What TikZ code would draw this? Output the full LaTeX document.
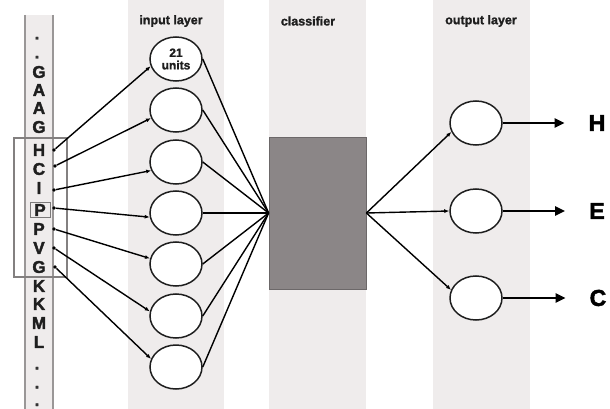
\documentclass[tikz,border=0pt]{standalone}
\usepackage{fontspec}
\setmainfont{Liberation Sans}
\newfontfamily\heavyfont{Liberation Sans}[FakeBold=1.3]
\newfontfamily\blackfont{Liberation Sans}[FakeBold=2.2]
\usetikzlibrary{arrows.meta,shapes.geometric}

\definecolor{stripgray}{HTML}{EFECEC}
\definecolor{stripedge}{HTML}{9A9797}
\definecolor{boxfill}{HTML}{8B8687}
\definecolor{boxedge}{HTML}{6C6869}
\definecolor{inkdark}{HTML}{1E1E1E}

\tikzset{
  strip/.style={fill=stripgray, draw=none},
  layertitle/.style={font=\heavyfont\bfseries\fontsize{12.5}{13}\selectfont, text=inkdark, inner sep=0pt},
  residue/.style={font=\blackfont\bfseries\fontsize{17}{17}\selectfont, text=black!88, inner sep=0pt},
  gapdot/.style={font=\blackfont\bfseries\fontsize{17}{17}\selectfont, text=black!80, inner sep=0pt, anchor=base},
  seqdot/.style={circle, fill=black, inner sep=0pt, minimum size=3.6pt},
  neuron/.style={ellipse, draw=inkdark, line width=1.5pt, fill=white,
                 minimum width=52pt, minimum height=44pt, inner sep=0pt},
  clsbox/.style={rectangle, fill=boxfill, draw=boxedge, line width=0.8pt,
                 minimum width=97pt, minimum height=152pt, inner sep=0pt},
  feed/.style={draw=black, line width=1.4pt, -{Latex[length=5pt,width=4pt]}},
  plain/.style={draw=black, line width=1.4pt},
  outarrow/.style={draw=black, line width=2.4pt, shorten >=24pt,
                   -{Triangle[length=10pt,width=9pt]}},
  classlabel/.style={font=\blackfont\bfseries\fontsize{23}{23}\selectfont, text=black, inner sep=0pt},
}

\begin{document}
\begin{tikzpicture}[x=1pt,y=-1pt]
\useasboundingbox (0,0) rectangle (610,409);

% background columns
\fill[strip] (128,0) rectangle (224,409);
\fill[strip] (269,0) rectangle (366,409);
\fill[strip] (433,0) rectangle (530,409);
\fill[strip] (25,15) rectangle (53,409);
\draw[stripedge, line width=1.6pt] (25,15) -- (25,409);
\draw[stripedge, line width=1.6pt] (53,15) -- (53,409);

% column titles
\node[layertitle] (tin)  at (171,21) {input layer};
\node[layertitle] (tcls) at (308,21) {classifier};
\node[layertitle] (tout) at (481,21) {output layer};

% sliding window over the sequence
\draw[stripedge!85!black, line width=2.2pt] (14,138) rectangle (67,277);

% amino-acid sequence
\node[gapdot] (g1) at (37,39.5) {.};
\node[gapdot] (g2) at (37,58.5) {.};
\node[residue] (r1)  at (39,72)  {G};
\node[residue] (r2)  at (39,90)  {A};
\node[residue] (r3)  at (39,108) {A};
\node[residue] (r4)  at (39,127) {G};
\node[residue] (r5)  at (39,150) {H};
\node[residue] (r6)  at (39,169) {C};
\node[residue] (r7)  at (39,188) {I};
\node[residue, draw=stripedge!80!black, line width=0.8pt,
      minimum width=20pt, minimum height=15pt] (r8) at (40,210) {P};
\node[residue] (r9)  at (39,229) {P};
\node[residue] (r10) at (39,248) {V};
\node[residue] (r11) at (39,267) {G};
\node[residue] (r12) at (39,286) {K};
\node[residue] (r13) at (39,304) {K};
\node[residue] (r14) at (39,323) {M};
\node[residue] (r15) at (39,342) {L};
\node[gapdot] (g3) at (37,369.5) {.};
\node[gapdot] (g4) at (37,388.5) {.};
\node[gapdot] (g5) at (37,406) {.};

% window positions feeding the input units
\node[seqdot] (d1) at (54,150) {};
\node[seqdot] (d2) at (55,166) {};
\node[seqdot] (d3) at (54,190) {};
\node[seqdot] (d4) at (54,208) {};
\node[seqdot] (d5) at (54,229) {};
\node[seqdot] (d6) at (54,248) {};
\node[seqdot] (d7) at (55,267) {};

% input layer
\node[neuron, align=center, font=\heavyfont\bfseries\fontsize{12}{12.5}\selectfont, text=inkdark]
      (i1) at (176,59) {21\\units};
\node[neuron] (i2) at (176,110) {};
\node[neuron] (i3) at (176,162) {};
\node[neuron] (i4) at (176,213) {};
\node[neuron] (i5) at (176,264) {};
\node[neuron] (i6) at (176,316) {};
\node[neuron] (i7) at (176,367) {};

% classifier
\node[clsbox] (cls) at (317.5,213) {};

% output layer
\node[neuron] (o1) at (476,123) {};
\node[neuron] (o2) at (476,211) {};
\node[neuron] (o3) at (476,298) {};

\node[classlabel] (lH) at (597,123) {H};
\node[classlabel] (lE) at (597,211) {E};
\node[classlabel] (lC) at (598,298) {C};

% sequence -> input units
\draw[feed] (d1) -- (i1.196);
\draw[feed] (d2) -- (i2.198);
\draw[feed] (d3) -- (i3.199);
\draw[feed] (d4) -- (i4.189);
\draw[feed] (d5) -- (i5.168);
\draw[feed] (d6) -- (i6.170);
\draw[feed] (d7) -- (i7.162);

% input units -> classifier
\foreach \k in {1,...,7} {
  \draw[plain] (i\k.east) -- (cls.west);
}

% classifier -> output units
\draw[feed] (cls.east) -- (o1.200);
\draw[feed] (cls.east) -- (o2.west);
\draw[feed] (cls.east) -- (o3.162);

% output units -> secondary-structure classes
\draw[outarrow] (o1.east) -- (lH.west);
\draw[outarrow] (o2.east) -- (lE.west);
\draw[outarrow] (o3.east) -- (lC.west);
\end{tikzpicture}
\end{document}
